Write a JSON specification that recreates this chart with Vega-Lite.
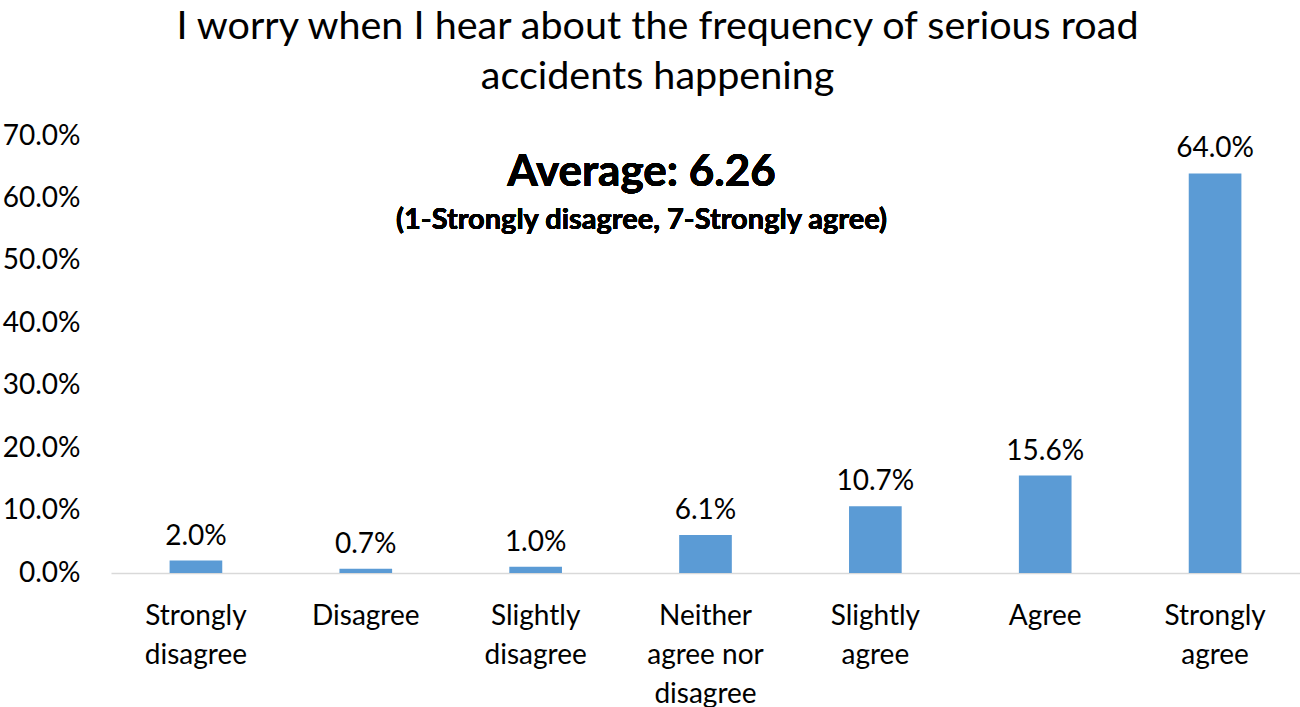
{
  "$schema": "https://vega.github.io/schema/vega-lite/v6.json",
  "autosize": {"type": "none"},
  "padding": {"left": 111, "top": 136, "right": 0, "bottom": 134},
  "width": 1189,
  "height": 437,
  "background": "white",
  "config": {"view": {"stroke": null}, "font": "Lato"},
  "title": {
    "text": ["I worry when I hear about the frequency of serious road", "accidents happening"],
    "fontSize": 39.5,
    "fontWeight": "normal",
    "font": "Lato",
    "color": "#000000",
    "lineHeight": 50,
    "anchor": "middle",
    "dx": -48,
    "offset": 25
  },
  "data": {
    "values": [
      {"category": "Strongly disagree", "pct": 0.020},
      {"category": "Disagree", "pct": 0.007},
      {"category": "Slightly disagree", "pct": 0.010},
      {"category": "Neither agree nor disagree", "pct": 0.061},
      {"category": "Slightly agree", "pct": 0.107},
      {"category": "Agree", "pct": 0.156},
      {"category": "Strongly agree", "pct": 0.640}
    ]
  },
  "encoding": {
    "x": {
      "field": "category",
      "type": "nominal",
      "sort": null,
      "scale": {"paddingInner": 0.69, "paddingOuter": 0.345},
      "axis": {
        "title": null,
        "labelAngle": 0,
        "labelFontSize": 28,
        "labelColor": "#000000",
        "labelLineHeight": 39,
        "labelPadding": 29,
        "ticks": false,
        "domainColor": "#D9D9D9",
        "domainWidth": 1.5,
        "labelExpr": "datum.value == 'Neither agree nor disagree' ? ['Neither', 'agree nor', 'disagree'] : split(datum.value, ' ')"
      }
    },
    "y": {
      "field": "pct",
      "type": "quantitative",
      "scale": {"domain": [0, 0.7]},
      "axis": {
        "title": null,
        "format": ".1%",
        "values": [0, 0.1, 0.2, 0.3, 0.4, 0.5, 0.6, 0.7],
        "grid": false,
        "domain": false,
        "ticks": false,
        "labelFontSize": 28,
        "labelColor": "#000000",
        "labelPadding": 31
      }
    }
  },
  "layer": [
    {"mark": {"type": "bar", "color": "#5B9BD5"}},
    {
      "mark": {"type": "text", "baseline": "bottom", "dy": -10, "fontSize": 28, "color": "#000000"},
      "encoding": {"text": {"field": "pct", "type": "quantitative", "format": ".1%"}}
    },
    {
      "mark": {"type": "text", "fontSize": 44, "fontWeight": "bold", "baseline": "middle", "align": "center", "dx": -64, "color": "#000000"},
      "encoding": {
        "x": {"datum": "Neither agree nor disagree"},
        "y": {"datum": 0.641},
        "text": {"value": "Average: 6.26"}
      }
    },
    {
      "mark": {"type": "text", "fontSize": 29, "fontWeight": "bold", "baseline": "middle", "align": "center", "dx": -64, "color": "#000000"},
      "encoding": {
        "x": {"datum": "Neither agree nor disagree"},
        "y": {"datum": 0.566},
        "text": {"value": "(1-Strongly disagree, 7-Strongly agree)"}
      }
    }
  ]
}
